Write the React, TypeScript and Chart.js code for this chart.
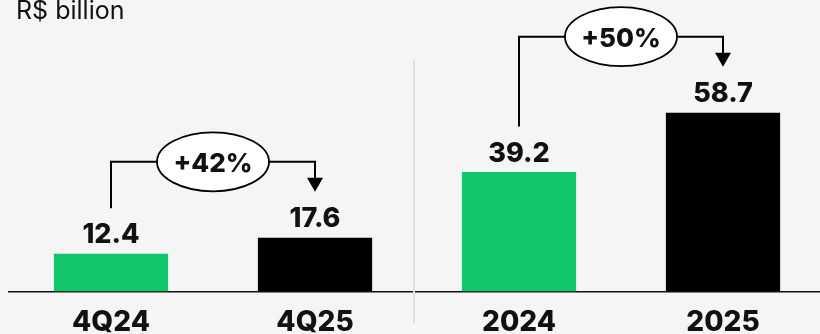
import React, { useEffect, useRef } from "react";
import { Chart, registerables } from "chart.js";

Chart.register(...registerables);

const categories = ["4Q24", "4Q25", "2024", "2025"];
const revenueValues = [12.4, 17.6, 39.2, 58.7];
const barColors = ["#12c66e", "#000000", "#12c66e", "#000000"];
const changeLabels = ["+42%", "+50%"];
const changeFrom = [0, 2];
const changeTo = [1, 3];
const unitLabel = "R$ billion";

const FONT = "Inter, 'Noto Sans', sans-serif";

const overlayPlugin = {
  id: "overlay",
  beforeDatasetsDraw(chart: any) {
    const ctx = chart.ctx;
    const x = chart.scales.x;
    // divider between quarterly and annual groups
    const dx = (x.getPixelForValue(1) + x.getPixelForValue(2)) / 2 - 3;
    ctx.save();
    ctx.strokeStyle = "#e0e0e0";
    ctx.lineWidth = 2;
    ctx.beginPath();
    ctx.moveTo(dx, 60);
    ctx.lineTo(dx, 323);
    ctx.stroke();
    // unit label
    ctx.fillStyle = "#111";
    ctx.font = `400 25px ${FONT}`;
    ctx.textAlign = "left";
    ctx.textBaseline = "alphabetic";
    ctx.fillText(unitLabel, 16, 19);
    ctx.restore();
  },
  afterDatasetsDraw(chart: any) {
    const ctx = chart.ctx;
    const meta = chart.getDatasetMeta(0);
    ctx.save();
    // value labels
    ctx.fillStyle = "#111";
    ctx.font = `800 27px ${FONT}`;
    ctx.textAlign = "center";
    ctx.textBaseline = "alphabetic";
    meta.data.forEach((bar: any, i: number) => {
      ctx.fillText(String(revenueValues[i].toFixed(1)), bar.x, bar.y - 10.5);
    });
    // change brackets
    changeLabels.forEach((lab, k) => {
      const a = meta.data[changeFrom[k]];
      const b = meta.data[changeTo[k]];
      const x1 = a.x;
      const x2 = b.x;
      const start = a.y - 45.5;
      const tip = b.y - 46;
      const level = Math.min(a.y, b.y) - 76;
      const cx = (x1 + x2) / 2;
      const rx = 56;
      const ry = 29.5;
      ctx.strokeStyle = "#000";
      ctx.lineWidth = 2;
      ctx.beginPath();
      ctx.moveTo(x1, start);
      ctx.lineTo(x1, level);
      ctx.lineTo(cx - rx, level);
      ctx.moveTo(cx + rx, level);
      ctx.lineTo(x2, level);
      ctx.lineTo(x2, tip - 13);
      ctx.stroke();
      ctx.fillStyle = "#000";
      ctx.beginPath();
      ctx.moveTo(x2 - 8, tip - 14);
      ctx.lineTo(x2 + 8, tip - 14);
      ctx.lineTo(x2, tip);
      ctx.closePath();
      ctx.fill();
      ctx.beginPath();
      ctx.ellipse(cx, level, rx, ry, 0, 0, Math.PI * 2);
      ctx.fillStyle = "#ffffff";
      ctx.fill();
      ctx.lineWidth = 1.8;
      ctx.stroke();
      ctx.fillStyle = "#111";
      ctx.font = `800 26px ${FONT}`;
      ctx.textAlign = "center";
      ctx.fillText(lab, cx, level + 10.5);
    });
    ctx.restore();
  },
};

export default function App() {
  const ref = useRef<HTMLCanvasElement>(null);
  useEffect(() => {
    if (!ref.current) return;
    const chart = new Chart(ref.current, {
      type: "bar",
      data: {
        labels: categories,
        datasets: [
          {
            data: revenueValues,
            backgroundColor: barColors,
            borderWidth: 0,
            barPercentage: 0.56,
            categoryPercentage: 1,
          },
        ],
      },
      options: {
        responsive: false,
        animation: false,
        layout: { padding: { left: 9, right: 5, top: 0, bottom: 0 } },
        plugins: { legend: { display: false }, tooltip: { enabled: false } },
        scales: {
          x: {
            offset: true,
            grid: { display: false, drawTicks: false },
            border: { display: true, color: "#111", width: 1.5 },
            ticks: {
              color: "#111",
              font: { family: FONT, size: 28, weight: 800 },
              padding: 14.5,
            },
          },
          y: { display: false, min: 0, max: 95.7 },
        },
      },
      plugins: [overlayPlugin],
    });
    return () => chart.destroy();
  }, []);
  return (
    <div
      style={{
        position: "absolute",
        left: 0,
        top: 0,
        width: 820,
        height: 334,
        overflow: "hidden",
        background: "#f5f5f5",
      }}
    >
      <canvas ref={ref} width={830} height={354} style={{ display: "block" }} />
    </div>
  );
}
